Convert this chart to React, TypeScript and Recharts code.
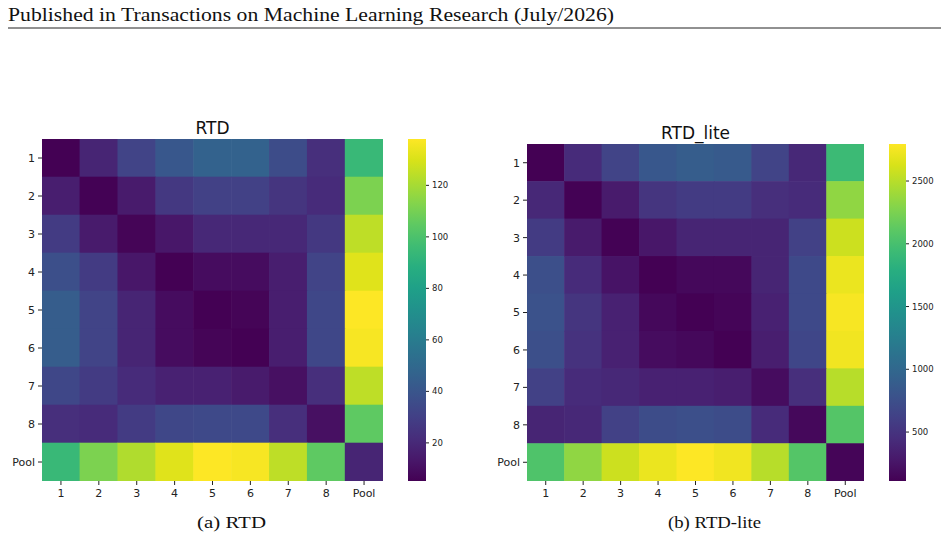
import { Bar, BarChart, Scatter, ScatterChart, XAxis, YAxis } from "recharts";

// axis labels shared by both matrices
const labels = ["1", "2", "3", "4", "5", "6", "7", "8", "Pool"];

// pairwise RTD between the 8 models and the pooled one
const rtdRows = [
  [5.2, 18.5, 31.8, 41.0, 46.4, 46.4, 35.7, 22.5, 94.2],
  [15.8, 5.4, 14.5, 26.4, 30.4, 30.4, 25.1, 21.1, 111.4],
  [27.8, 14.5, 6.5, 13.2, 19.8, 19.8, 19.8, 26.4, 124.7],
  [37.1, 27.8, 13.2, 5.3, 9.2, 9.2, 15.8, 31.8, 131.4],
  [43.7, 31.8, 18.5, 9.2, 5.2, 6.5, 15.8, 33.1, 138.0],
  [43.7, 31.8, 18.5, 9.2, 6.5, 5.2, 15.8, 33.1, 136.7],
  [33.1, 27.8, 21.1, 17.2, 17.2, 14.5, 10.5, 22.5, 124.7],
  [22.5, 21.1, 27.8, 33.1, 34.4, 34.4, 22.5, 10.5, 104.8],
  [94.2, 111.4, 122.0, 131.4, 138.0, 136.7, 124.7, 104.8, 18.5],
];

// same layout, RTD-lite
const rtdLiteRows = [
  [110, 432, 647, 835, 889, 862, 647, 405, 1936],
  [405, 115, 298, 513, 566, 566, 459, 432, 2339],
  [566, 298, 118, 271, 378, 378, 378, 620, 2580],
  [754, 432, 244, 112, 164, 164, 378, 701, 2714],
  [781, 513, 352, 164, 110, 137, 352, 701, 2768],
  [754, 486, 352, 191, 164, 112, 325, 674, 2741],
  [620, 432, 405, 352, 352, 325, 191, 459, 2500],
  [378, 405, 620, 728, 754, 728, 432, 164, 2070],
  [2043, 2339, 2580, 2714, 2795, 2741, 2500, 2070, 137],
];

const rtdRange = [5.2, 138];
const rtdLiteRange = [110, 2795];
const rtdTicks = [20, 40, 60, 80, 100, 120];
const rtdLiteTicks = [500, 1000, 1500, 2000, 2500];

// viridis, 17 evenly spaced stops
const VIRIDIS = [
  "#440154", "#48186a", "#472d7b", "#424086", "#3b528b", "#33638d",
  "#2c728e", "#26828e", "#21918c", "#1fa088", "#28ae80", "#3fbc73",
  "#5ec962", "#84d44b", "#addc30", "#d8e219", "#fde725",
];

function hexToRgb(h: string) {
  return [1, 3, 5].map((i) => parseInt(h.slice(i, i + 2), 16));
}

function viridis(t: number) {
  const c = Math.min(1, Math.max(0, t)) * (VIRIDIS.length - 1);
  const i = Math.min(VIRIDIS.length - 2, Math.floor(c));
  const f = c - i;
  const a = hexToRgb(VIRIDIS[i]);
  const b = hexToRgb(VIRIDIS[i + 1]);
  const rgb = a.map((v, k) => Math.round(v + (b[k] - v) * f));
  return `rgb(${rgb.join(",")})`;
}

const idx = labels.map((_, i) => i);
const TEXT = "#222";
const X_HEIGHT = 30;

type HeatmapProps = {
  rows: number[][];
  range: number[];
  width: number;
  height: number;
  margin: { top: number; right: number; bottom: number; left: number };
  yWidth: number;
};

function Heatmap({ rows, range, width, height, margin, yWidth }: HeatmapProps) {
  const [lo, hi] = range;
  const cellW = (width - margin.left - margin.right - yWidth) / labels.length;
  const cellH = (height - margin.top - margin.bottom - X_HEIGHT) / labels.length;
  const cells = rows.flatMap((row, r) => row.map((value, c) => ({ col: c, row: r, value })));

  const renderCell = (props: any) => {
    const { cx, cy, payload } = props;
    return (
      <rect
        x={cx - cellW / 2 - 0.3}
        y={cy - cellH / 2 - 0.3}
        width={cellW + 0.6}
        height={cellH + 0.6}
        fill={viridis((payload.value - lo) / (hi - lo))}
      />
    );
  };

  return (
    <ScatterChart width={width} height={height} margin={margin}>
      <XAxis
        type="number"
        dataKey="col"
        domain={[-0.5, 8.5]}
        ticks={idx}
        interval={0}
        allowDataOverflow
        tickFormatter={(i: number) => labels[i]}
        axisLine={false}
        tickSize={4}
        tickMargin={4}
        height={X_HEIGHT}
        tick={{ fontSize: 11, fill: TEXT }}
        tickLine={{ stroke: TEXT }}
      />
      <YAxis
        type="number"
        dataKey="row"
        domain={[-0.5, 8.5]}
        reversed
        ticks={idx}
        interval={0}
        allowDataOverflow
        tickFormatter={(i: number) => labels[i]}
        axisLine={false}
        tickSize={4}
        tickMargin={3}
        width={yWidth}
        tick={{ fontSize: 11, fill: TEXT }}
        tickLine={{ stroke: TEXT }}
      />
      <Scatter data={cells} shape={renderCell} isAnimationActive={false} />
    </ScatterChart>
  );
}

type ColorbarProps = {
  id: string;
  range: number[];
  ticks: number[];
  width: number;
  height: number;
  margin: { top: number; right: number; bottom: number; left: number };
  yWidth: number;
};

function Colorbar({ id, range, ticks, width, height, margin, yWidth }: ColorbarProps) {
  const [lo, hi] = range;
  return (
    <BarChart
      width={width}
      height={height}
      margin={margin}
      data={[{ k: "cb", span: [lo, hi] }]}
      barCategoryGap={0}
    >
      <defs>
        <linearGradient id={id} x1="0" y1="1" x2="0" y2="0">
          {VIRIDIS.map((c, i) => (
            <stop key={i} offset={i / (VIRIDIS.length - 1)} stopColor={c} />
          ))}
        </linearGradient>
      </defs>
      <XAxis dataKey="k" hide />
      <YAxis
        type="number"
        orientation="right"
        domain={[lo, hi]}
        allowDataOverflow
        ticks={ticks}
        interval={0}
        axisLine={false}
        tickSize={3}
        tickMargin={3}
        width={yWidth}
        tick={{ fontSize: 8.5, fill: TEXT }}
        tickLine={{ stroke: TEXT }}
      />
      <Bar dataKey="span" fill={`url(#${id})`} isAnimationActive={false} />
    </BarChart>
  );
}

const serif = "'Liberation Serif', 'DejaVu Serif', serif";

export default function App() {
  return (
    <div
      style={{
        position: "absolute",
        left: 0,
        top: 0,
        width: 948,
        height: 545,
        background: "#fff",
        overflow: "hidden",
        fontFamily: "'DejaVu Sans', sans-serif",
      }}
    >
      <div style={{ position: "absolute", left: 0, top: 100 }}>
        <Heatmap
          rows={rtdRows}
          range={rtdRange}
          width={400}
          height={420}
          margin={{ top: 39, right: 17, bottom: 9, left: 0 }}
          yWidth={42}
        />
      </div>
      <div style={{ position: "absolute", left: 400, top: 100 }}>
        <Colorbar
          id="cbRtd"
          range={rtdRange}
          ticks={rtdTicks}
          width={60}
          height={420}
          margin={{ top: 39, right: 0, bottom: 39, left: 8 }}
          yWidth={34}
        />
      </div>
      <div style={{ position: "absolute", left: 480, top: 100 }}>
        <Heatmap
          rows={rtdLiteRows}
          range={rtdLiteRange}
          width={400}
          height={420}
          margin={{ top: 44, right: 16, bottom: 9, left: 0 }}
          yWidth={47}
        />
      </div>
      <div style={{ position: "absolute", left: 880, top: 100 }}>
        <Colorbar
          id="cbRtdLite"
          range={rtdLiteRange}
          ticks={rtdLiteTicks}
          width={68}
          height={420}
          margin={{ top: 44, right: 0, bottom: 39, left: 9 }}
          yWidth={42}
        />
      </div>

      <svg
        width={948}
        height={545}
        style={{ position: "absolute", left: 0, top: 0, pointerEvents: "none" }}
      >
        <text x={8} y={21} fontFamily={serif} fontSize={18} fill="#111" textLength={606} lengthAdjust="spacingAndGlyphs">
          Published in Transactions on Machine Learning Research (July/2026)
        </text>
        <line x1={8} x2={941} y1={28} y2={28} stroke="#222" strokeWidth={1} />

        <text x={212.5} y={134} textAnchor="middle" fontSize={17} fill="#111">
          RTD
        </text>
        <text x={695.5} y={139} textAnchor="middle" fontSize={17} fill="#111">
          RTD_lite
        </text>

        <text x={197} y={528} fontFamily={serif} fontSize={17} fill="#111" textLength={69} lengthAdjust="spacingAndGlyphs">
          (a) RTD
        </text>
        <text x={668} y={528} fontFamily={serif} fontSize={17} fill="#111" textLength={93} lengthAdjust="spacingAndGlyphs">
          (b) RTD-lite
        </text>
      </svg>
    </div>
  );
}
